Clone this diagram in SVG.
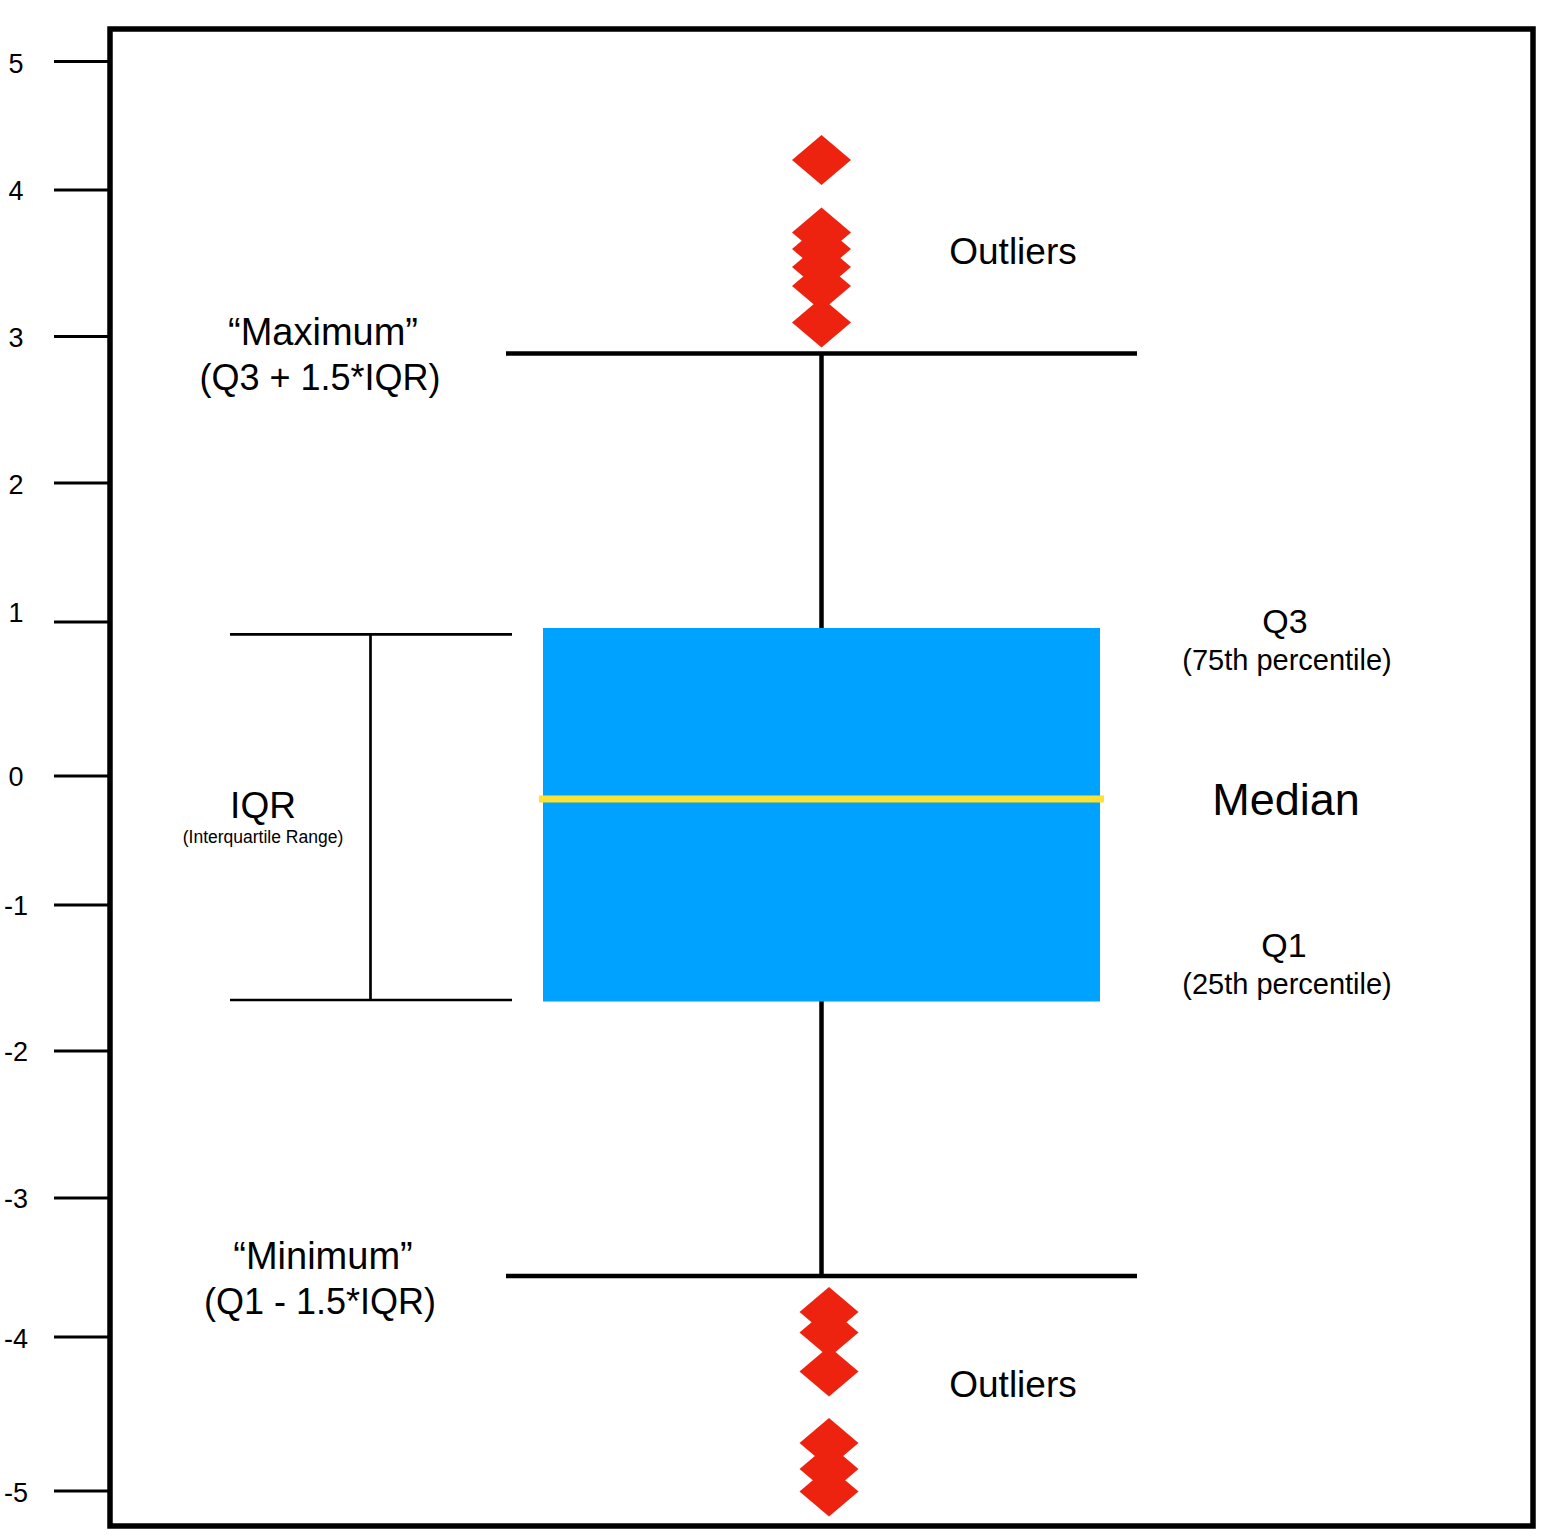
<svg xmlns="http://www.w3.org/2000/svg" width="1554" height="1540" viewBox="0 0 1554 1540">
<defs>
<style>
text{font-family:"Liberation Sans",Arial,Helvetica,sans-serif;fill:#000;}
.ax{font-size:27px;text-anchor:middle;}
.tick{stroke:#000;stroke-width:3;}
.lbl{font-size:36px;text-anchor:middle;}
.quote{font-size:38px;text-anchor:middle;}
.out-lbl{font-size:37px;text-anchor:middle;}
.sub{font-size:29px;text-anchor:middle;}
.q{font-size:34px;text-anchor:middle;}
.whisk{stroke:#000;stroke-width:4.5;fill:none;}
.brk{stroke:#000;stroke-width:2.7;fill:none;}
.out{fill:#EE230F;}
</style>
<polygon id="dia" points="0,-25 29.5,0 0,25 -29.5,0"/>
</defs>
<rect width="1554" height="1540" fill="#fff"/>
<g id="frame">
<rect x="110" y="29" width="1423" height="1497" fill="none" stroke="#000" stroke-width="5.5"/>
</g>
<g id="axis">
<line class="tick" x1="54" y1="61.5" x2="108" y2="61.5"/>
<line class="tick" x1="54" y1="190" x2="108" y2="190"/>
<line class="tick" x1="54" y1="336.5" x2="108" y2="336.5"/>
<line class="tick" x1="54" y1="483" x2="108" y2="483"/>
<line class="tick" x1="54" y1="622" x2="108" y2="622"/>
<line class="tick" x1="54" y1="776" x2="108" y2="776"/>
<line class="tick" x1="54" y1="905" x2="108" y2="905"/>
<line class="tick" x1="54" y1="1051" x2="108" y2="1051"/>
<line class="tick" x1="54" y1="1198" x2="108" y2="1198"/>
<line class="tick" x1="54" y1="1337" x2="108" y2="1337"/>
<line class="tick" x1="54" y1="1491" x2="108" y2="1491"/>
<text class="ax" x="16" y="73">5</text>
<text class="ax" x="16" y="200">4</text>
<text class="ax" x="16" y="347">3</text>
<text class="ax" x="16" y="494">2</text>
<text class="ax" x="16" y="622">1</text>
<text class="ax" x="16" y="786">0</text>
<text class="ax" x="16" y="915">-1</text>
<text class="ax" x="16" y="1061">-2</text>
<text class="ax" x="16" y="1208">-3</text>
<text class="ax" x="16" y="1348">-4</text>
<text class="ax" x="16" y="1502">-5</text>
</g>
<g id="connectors">
<line class="whisk" x1="821.5" y1="353.5" x2="821.5" y2="630"/>
<line class="whisk" x1="821.5" y1="1000" x2="821.5" y2="1276"/>
</g>
<g id="maximum">
<line class="whisk" x1="506" y1="353.5" x2="1137" y2="353.5"/>
<text class="quote" x="323" y="345">“Maximum”</text>
<text class="lbl" x="320" y="390">(Q3 + 1.5*IQR)</text>
</g>
<g id="minimum">
<line class="whisk" x1="506" y1="1276" x2="1137" y2="1276"/>
<text class="quote" x="323" y="1269">“Minimum”</text>
<text class="lbl" x="320" y="1314">(Q1 - 1.5*IQR)</text>
</g>
<g id="box">
<rect x="543" y="628" width="557" height="373.5" fill="#00A2FF"/>
<line x1="539" y1="799" x2="1104" y2="799" stroke="#FEE232" stroke-width="7"/>
</g>
<g id="iqr">
<line class="brk" x1="230" y1="634.3" x2="512" y2="634.3"/>
<line class="brk" x1="230" y1="1000" x2="512" y2="1000"/>
<line class="brk" x1="370.5" y1="634.3" x2="370.5" y2="1000"/>
<text x="263" y="818" style="font-size:37px;text-anchor:middle">IQR</text>
<text x="263" y="843" style="font-size:17.5px;text-anchor:middle">(Interquartile Range)</text>
</g>
<g id="q3">
<text class="q" x="1285" y="633">Q3</text>
<text class="sub" x="1287" y="670">(75th percentile)</text>
</g>
<g id="median">
<text x="1286" y="815" style="font-size:45px;text-anchor:middle">Median</text>
</g>
<g id="q1">
<text class="q" x="1284" y="957">Q1</text>
<text class="sub" x="1287" y="994">(25th percentile)</text>
</g>
<g id="outliers-top">
<use href="#dia" class="out" x="821.5" y="160"/>
<use href="#dia" class="out" x="821.5" y="232.5"/>
<use href="#dia" class="out" x="821.5" y="249"/>
<use href="#dia" class="out" x="821.5" y="267"/>
<use href="#dia" class="out" x="821.5" y="286"/>
<use href="#dia" class="out" x="821.5" y="322.5"/>
<text class="out-lbl" x="1013" y="264">Outliers</text>
</g>
<g id="outliers-bottom">
<use href="#dia" class="out" x="829" y="1312"/>
<use href="#dia" class="out" x="829" y="1332.5"/>
<use href="#dia" class="out" x="829" y="1371.5"/>
<use href="#dia" class="out" x="829" y="1443"/>
<use href="#dia" class="out" x="829" y="1469"/>
<use href="#dia" class="out" x="829" y="1491.5"/>
<text class="out-lbl" x="1013" y="1397">Outliers</text>
</g>
</svg>
